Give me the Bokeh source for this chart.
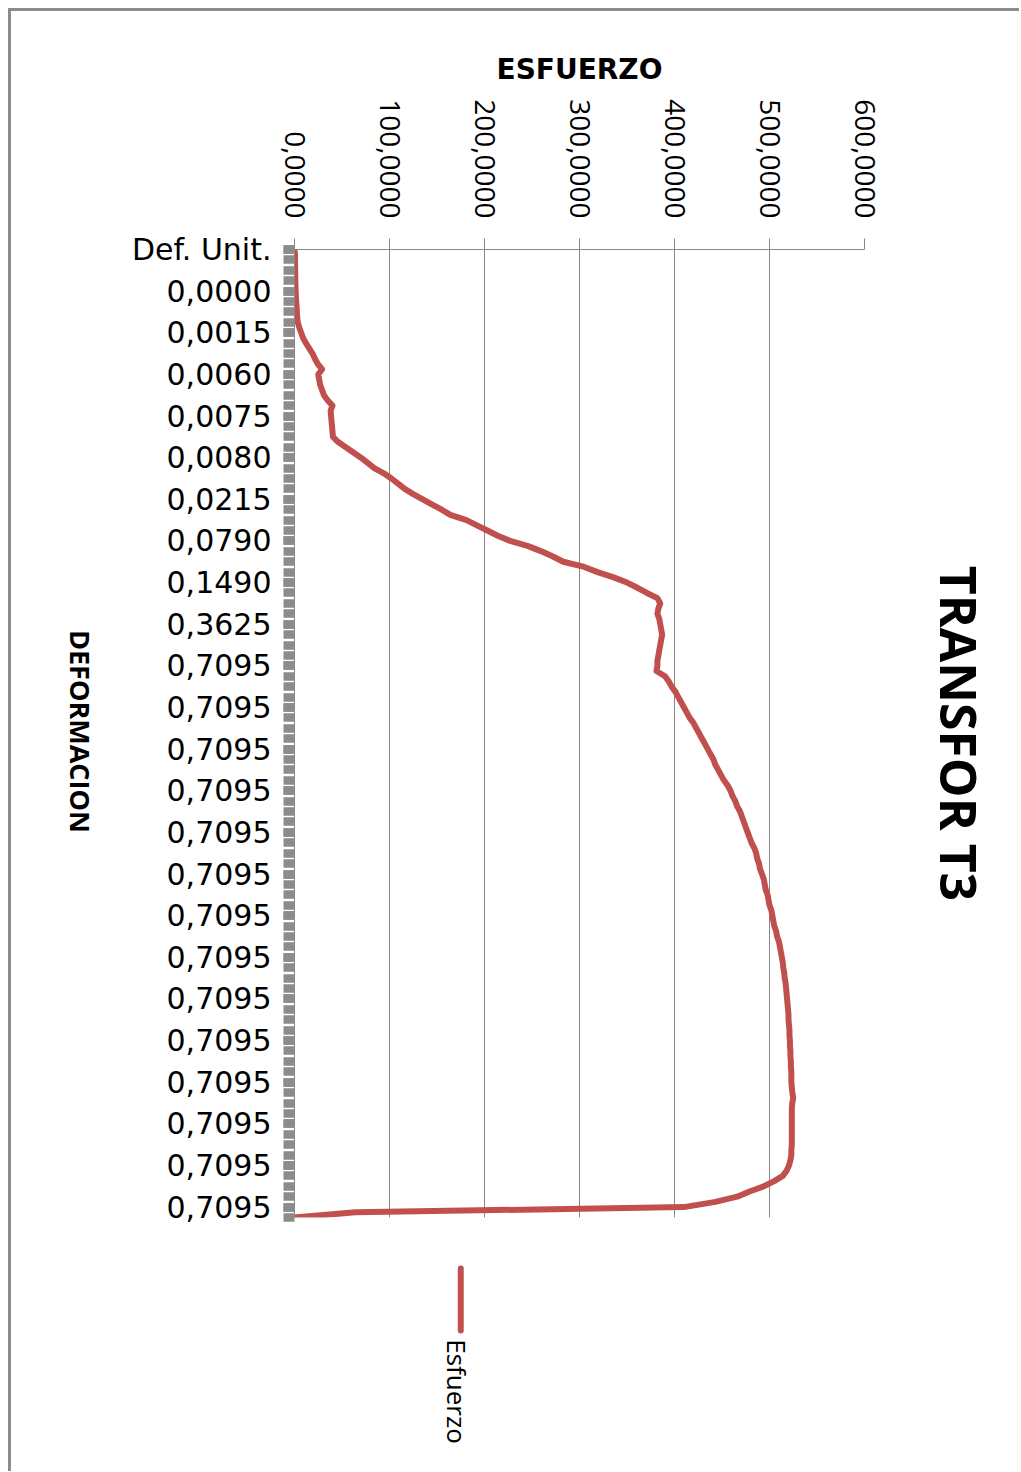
import math
from bokeh.plotting import figure
from bokeh.layouts import column, row
from bokeh.models import Range1d, FixedTicker, LinearAxis
from bokeh.core.properties import value
from bokeh.embed import file_html
from bokeh.resources import INLINE

# ---- data ----
stress = [
    0, 0.5, 0.5, 0.6, 0.7, 0.8, 0.9, 1.0, 1.2, 1.5,
    1.8, 2.2, 2.5, 2.8, 3.5, 5, 7, 9, 12, 15.5,
    19, 21.5, 24.5, 29, 25, 26, 27, 29, 31, 35,
    40, 38, 38.5, 39, 39.5, 40, 40.5, 46, 54, 62,
    70, 77, 84, 94, 102, 109, 116, 125, 135, 145,
    155, 164, 181, 192, 203, 214, 227, 246, 260, 272,
    283, 305, 319, 336, 350, 361, 371, 382, 385, 383,
    382, 384, 385, 386, 387, 386, 385, 384, 383, 382,
    382, 381, 390, 394, 397, 401, 404, 407, 410, 413,
    416, 420, 423, 426, 429, 432, 435, 438, 441, 443,
    446, 449, 452, 456, 459, 461, 464, 466, 469, 471,
    473, 475, 477, 479, 481, 484, 486, 487, 489, 490,
    492, 494, 495, 496, 498, 499, 500, 502, 503, 504,
    505, 507, 508, 510, 511, 512, 513, 514, 514.5, 515.5,
    516, 517, 517.5, 518, 518.5, 519, 519.5, 520, 520, 520.5,
    521, 521, 521.5, 521.5, 522, 522, 522.5, 522.5, 523, 523,
    523, 523.5, 524, 525, 524, 523.5, 523.5, 523.5, 523.5, 523.5,
    523.5, 523.5, 523.5, 523, 523, 522, 520.5, 518, 514, 505,
    494, 479, 466, 443, 410, 64, 0,
]

cat_labels = [
    "Def. Unit.", "0,0000", "0,0015", "0,0060", "0,0075", "0,0080",
    "0,0215", "0,0790", "0,1490", "0,3625",
    "0,7095", "0,7095", "0,7095", "0,7095", "0,7095", "0,7095", "0,7095",
    "0,7095", "0,7095", "0,7095", "0,7095", "0,7095", "0,7095", "0,7095",
]
label_every = 8

x_ticks = [0, 100, 200, 300, 400, 500, 600]
x_tick_labels = ["0,0000", "100,0000", "200,0000", "300,0000",
                 "400,0000", "500,0000", "600,0000"]

title_text = "TRANSFOR T3"
x_title = "ESFUERZO"
y_title = "DEFORMACION"
series_name = "Esfuerzo"

# ---- geometry ----
n = len(stress)
idx = list(range(n))
GRAY = "#868686"
RED = "#C0504D"
W = 1008          # total width
WL = 100          # strip holding the vertical y title
H = 1250          # height of chart row
B_LEFT, B_RIGHT, B_TOP, B_BOTTOM = 283, 155, 238, 44

x_rng = Range1d(0, 600)
y_rng = Range1d(n - 1, 0)

# ---- main figure ----
p = figure(width=W - WL, height=H, output_backend="svg", toolbar_location=None,
           x_range=x_rng, y_range=y_rng,
           x_axis_location="above", y_axis_location="left",
           min_border_left=B_LEFT - WL, min_border_right=B_RIGHT,
           min_border_top=B_TOP, min_border_bottom=B_BOTTOM)
p.outline_line_color = None
p.background_fill_color = "white"
p.border_fill_color = "white"
p.title.visible = False

p.line(stress, idx, line_color=RED, line_width=6, line_join="round", line_cap="round")

# top value axis
xa = p.xaxis[0]
xa.ticker = FixedTicker(ticks=x_ticks)
xa.major_label_overrides = {t: s for t, s in zip(x_ticks, x_tick_labels)}
xa.major_label_orientation = -math.pi / 2
xa.major_label_text_font = "Open Sans"
xa.major_label_text_font_size = "28px"
xa.major_label_text_color = "black"
xa.major_label_standoff = 20
xa.major_tick_out = 11
xa.major_tick_in = 0
xa.major_tick_line_color = GRAY
xa.minor_tick_line_color = None
xa.axis_line_color = GRAY
xa.axis_label = x_title
xa.axis_label_text_font = "DejaVu Sans"
xa.axis_label_text_font_style = "bold"
xa.axis_label_text_font_size = "28px"
xa.axis_label_text_color = "black"
xa.axis_label_standoff = 10

p.xgrid.ticker = xa.ticker
p.xgrid.grid_line_color = GRAY
p.xgrid.grid_line_width = 1
p.ygrid.grid_line_color = None

# left category axis
label_pos = [i * label_every for i in range(len(cat_labels))]
ya = p.yaxis[0]
ya.ticker = FixedTicker(ticks=label_pos, minor_ticks=list(range(0, n, 2)))
ya.major_label_overrides = {t: s for t, s in zip(label_pos, cat_labels)}
ya.major_label_orientation = "horizontal"
ya.major_label_text_font = "DejaVu Sans"
ya.major_label_text_font_size = "30px"
ya.major_label_text_color = "black"
ya.major_label_standoff = 12
ya.major_tick_out = 11
ya.major_tick_in = 0
ya.major_tick_line_width = 8.5
ya.major_tick_line_color = "#8c8c8c"
ya.minor_tick_out = 11
ya.minor_tick_in = 0
ya.minor_tick_line_width = 8.5
ya.minor_tick_line_color = "#8c8c8c"
ya.axis_line_color = GRAY

# chart title on the right, reading top to bottom
ta = LinearAxis(ticker=FixedTicker(ticks=[]), axis_line_color=None,
                major_tick_line_color=None, minor_tick_line_color=None,
                major_label_text_font_size="0px",
                axis_label=title_text, axis_label_text_font="Open Sans",
                axis_label_text_font_style="bold", axis_label_text_font_size="50px",
                axis_label_text_color="black", axis_label_standoff=60)
p.add_layout(ta, "right")

# ---- left strip: y axis title reading top to bottom ----
lf = figure(width=WL, height=H, output_backend="svg", toolbar_location=None,
            x_range=Range1d(0, WL), y_range=y_rng,
            x_axis_location=None, y_axis_location=None,
            min_border_left=0, min_border_right=0,
            min_border_top=B_TOP, min_border_bottom=B_BOTTOM)
lf.grid.visible = False
lf.outline_line_color = None
lf.title.visible = False
lf.background_fill_color = "white"
lf.border_fill_color = "white"
lf.text(x=[69], y=[92.6], text=[y_title], angle=-math.pi / 2,
        text_align="center", text_baseline="middle",
        text_font=value("Open Sans"), text_font_style="bold",
        text_font_size="27px", text_color="black")

# ---- legend strip below (vertical legend entry) ----
lg = figure(width=W, height=210, output_backend="svg", toolbar_location=None,
            x_range=Range1d(0, 600), y_range=Range1d(0, 210),
            x_axis_location=None, y_axis_location=None,
            min_border_left=B_LEFT, min_border_right=B_RIGHT,
            min_border_top=0, min_border_bottom=0)
lg.grid.visible = False
lg.outline_line_color = None
lg.title.visible = False
lg.background_fill_color = "white"
lg.border_fill_color = "white"
lg.line([175, 175], [203, 141], line_color=RED, line_width=6, line_cap="round")
lg.text(x=[171.5], y=[80], text=[series_name], angle=-math.pi / 2,
        text_align="center", text_baseline="middle",
        text_font=value("Open Sans"), text_font_size="26px", text_color="black")

layout = column(row(lf, p, spacing=0), lg, spacing=0,
                styles={"margin-left": "8px", "margin-top": "8px",
                        "border-top": "3px solid #8c8c8c",
                        "border-left": "3px solid #8c8c8c"})

open("out.html", "w").write(file_html(layout, INLINE))
